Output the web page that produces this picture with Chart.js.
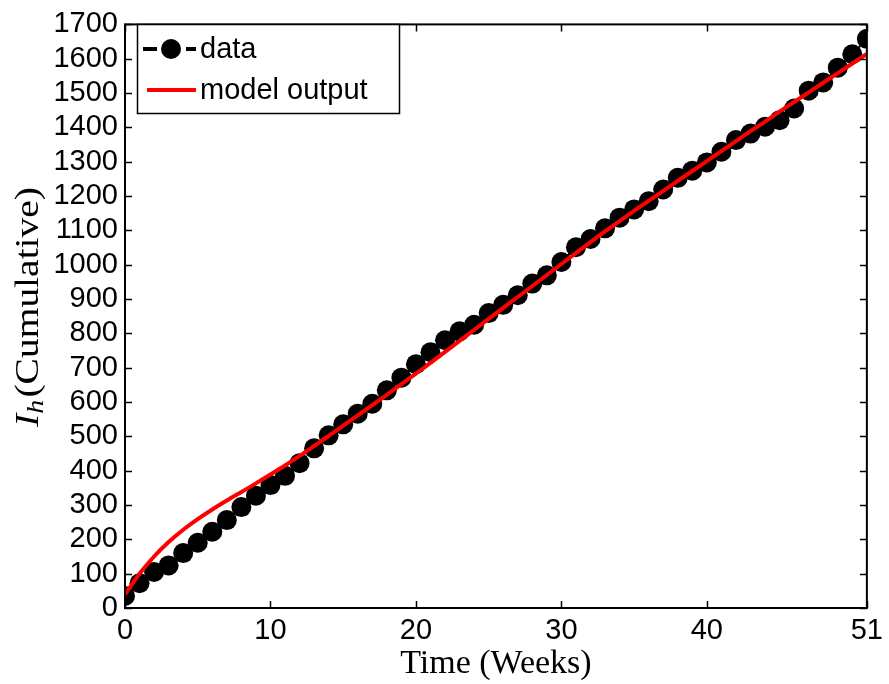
<!DOCTYPE html>
<html>
<head>
<meta charset="utf-8">
<title>Ih cumulative</title>
<script src="https://cdn.jsdelivr.net/npm/chart.js@4.4.1/dist/chart.umd.min.js"></script>
<style>
  html, body { margin: 0; padding: 0; background: #fff; }
</style>
</head>
<body>
<canvas id="ih-chart" width="889" height="684"></canvas>
<script>
// data (weeks 0..51)
const weeks = [
    0, 1, 2, 3, 4, 5, 6, 7, 8, 9, 10, 11, 12, 13, 14, 15, 16, 17, 18, 19, 20,
    21, 22, 23, 24, 25, 26, 27, 28, 29, 30, 31, 32, 33, 34, 35, 36, 37, 38, 39,
    40, 41, 42, 43, 44, 45, 46, 47, 48, 49, 50, 51,
];
const dataValues = [
    35, 72, 105, 124, 160, 190, 222, 256, 294, 327, 358, 385, 422, 465, 503,
    535, 566, 595, 634, 671, 710, 745, 780, 806, 825, 859, 883, 911, 945, 969,
    1008, 1051, 1075, 1106, 1137, 1161, 1185, 1219, 1253, 1274, 1298, 1329,
    1363, 1382, 1402, 1421, 1455, 1507, 1531, 1574, 1613, 1658,
];
const modelValues = [
    40, 100, 150, 192, 228, 259, 287, 313, 338, 363, 389, 415, 443, 472, 501,
    531, 561, 591, 621, 652, 683, 714, 746, 778, 810, 842, 874, 906, 938, 970,
    1002, 1034, 1066, 1097, 1127, 1157, 1186, 1215, 1244, 1273, 1302, 1331,
    1360, 1389, 1417, 1446, 1474, 1502, 1530, 1558, 1586, 1614,
];
const xTicks = [0, 10, 20, 30, 40, 51];
const yMax = 1700;
const yStep = 100;

const toPoints = (xs, ys) => xs.map((x, i) => ({ x: x, y: ys[i] }));

// box + inward tick marks (matlab style)
const boxTicks = {
    id: "boxTicks",
    afterDatasetsDraw(chart) {
        const { ctx, chartArea: a, scales } = chart;
        const len = 7;
        ctx.save();
        ctx.strokeStyle = "#000";
        ctx.lineWidth = 1.5;
        ctx.beginPath();
        scales.x.ticks.forEach((t) => {
            const px = Math.round(scales.x.getPixelForValue(t.value)) + 0.5;
            ctx.moveTo(px, a.bottom); ctx.lineTo(px, a.bottom - len);
            ctx.moveTo(px, a.top); ctx.lineTo(px, a.top + len);
        });
        scales.y.ticks.forEach((t) => {
            const py = Math.round(scales.y.getPixelForValue(t.value)) + 0.5;
            ctx.moveTo(a.left, py); ctx.lineTo(a.left + len, py);
            ctx.moveTo(a.right, py); ctx.lineTo(a.right - len, py);
        });
        ctx.stroke();
        ctx.lineWidth = 2;
        ctx.strokeRect(a.left, a.top, a.right - a.left, a.bottom - a.top);
        ctx.restore();
    },
};

// legend box in the upper left, like the original
const boxLegend = {
    id: "boxLegend",
    afterDraw(chart) {
        const { ctx } = chart;
        const ds = chart.data.datasets;
        const x0 = 137, y0 = 24, w = 262, h = 89;
        ctx.save();
        ctx.fillStyle = "#fff";
        ctx.fillRect(x0, y0, w, h);
        ctx.strokeStyle = "#000";
        ctx.lineWidth = 1.5;
        ctx.strokeRect(x0 + 0.5, y0 + 0.5, w, h);

        ctx.font = "29px 'Liberation Sans', Arial, sans-serif";
        ctx.textBaseline = "middle";
        ctx.fillStyle = "#000";

        // data entry: dash, dot, dash
        let cy = y0 + 25;
        ctx.strokeStyle = ds[0].borderColor;
        ctx.lineWidth = 4;
        ctx.beginPath();
        ctx.moveTo(143, cy); ctx.lineTo(157, cy);
        ctx.moveTo(186, cy); ctx.lineTo(196, cy);
        ctx.stroke();
        ctx.beginPath();
        ctx.arc(171, cy, 10, 0, Math.PI * 2);
        ctx.fillStyle = ds[0].pointBackgroundColor;
        ctx.fill();
        ctx.fillStyle = "#000";
        ctx.fillText(ds[0].label, 200, cy + 1);

        // model entry
        cy = y0 + 66;
        ctx.strokeStyle = ds[1].borderColor;
        ctx.lineWidth = 4;
        ctx.beginPath();
        ctx.moveTo(147, cy); ctx.lineTo(196, cy);
        ctx.stroke();
        ctx.fillText(ds[1].label, 200, cy + 1);
        ctx.restore();
    },
};

// y title with italic I and subscript h
const yTitle = {
    id: "yTitle",
    afterDraw(chart) {
        const { ctx, chartArea: a } = chart;
        const serif = "'Liberation Serif', 'Times New Roman', serif";
        const main = "(Cumulative)";
        const big = 34, small = 24, target = 240;
        ctx.save();
        ctx.translate(28, 307);
        ctx.rotate(-Math.PI / 2);
        ctx.fillStyle = "#000";
        ctx.textBaseline = "alphabetic";
        ctx.font = "italic " + big + "px " + serif;
        const wI = ctx.measureText("I").width;
        ctx.font = "italic " + small + "px " + serif;
        const wh = ctx.measureText("h").width;
        ctx.font = big + "px " + serif;
        const wm = ctx.measureText(main).width;
        const total = wI + wh + 2 + wm;
        ctx.scale(target / total, 1);
        let x = -total / 2;
        const base = 10;
        ctx.font = "italic " + big + "px " + serif;
        ctx.fillText("I", x, base);
        x += wI;
        ctx.font = "italic " + small + "px " + serif;
        ctx.fillText("h", x, base + 5);
        x += wh + 2;
        ctx.font = big + "px " + serif;
        ctx.fillText(main, x, base);
        ctx.restore();
    },
};

const tickFont = { family: "'Liberation Sans', Arial, sans-serif", size: 29 };

const configIh = {
    type: "line",
    data: {
        datasets: [
            {
                label: "data",
                data: toPoints(weeks, dataValues),
                borderColor: "#000",
                backgroundColor: "#000",
                pointBackgroundColor: "#000",
                pointBorderColor: "#000",
                borderWidth: 2,
                borderDash: [8, 4, 2, 4],
                pointRadius: 10,
                pointBorderWidth: 0,
                tension: 0,
                order: 2,
            },
            {
                label: "model output",
                data: toPoints(weeks, modelValues),
                borderColor: "rgb(255,0,0)",
                backgroundColor: "rgb(255,0,0)",
                borderWidth: 4,
                pointRadius: 0,
                cubicInterpolationMode: "monotone",
                order: 1,
            },
        ],
    },
    options: {
        responsive: false,
        animation: false,
        layout: { padding: { top: 16, right: 20, left: 0, bottom: 0 } },
        plugins: {
            legend: { display: false },
            tooltip: { enabled: false },
        },
        scales: {
            x: {
                type: "linear",
                min: 0,
                max: 51,
                border: { display: false },
                grid: { display: false, drawTicks: false },
                afterBuildTicks: (scale) => {
                    scale.ticks = xTicks.map((v) => ({ value: v }));
                },
                afterFit: (scale) => { scale.height = 76; },
                ticks: {
                    color: "#000",
                    font: tickFont,
                    padding: 6,
                    maxRotation: 0,
                    autoSkip: false,
                    callback: (v) => String(v),
                },
                title: {
                    display: true,
                    text: "Time (Weeks)",
                    color: "#000",
                    font: { family: "'Liberation Serif', 'Times New Roman', serif", size: 34 },
                    padding: { top: 0, bottom: 0 },
                },
            },
            y: {
                min: 0,
                max: yMax,
                border: { display: false },
                grid: { display: false, drawTicks: false },
                afterFit: (scale) => { scale.width = 125; },
                ticks: {
                    stepSize: yStep,
                    color: "#000",
                    font: tickFont,
                    padding: 7,
                    autoSkip: false,
                    callback: (v) => String(v),
                },
            },
        },
    },
    plugins: [boxTicks, boxLegend, yTitle],
};

const ctxIh = document.getElementById("ih-chart");
new Chart(ctxIh, configIh);
</script>
</body>
</html>
